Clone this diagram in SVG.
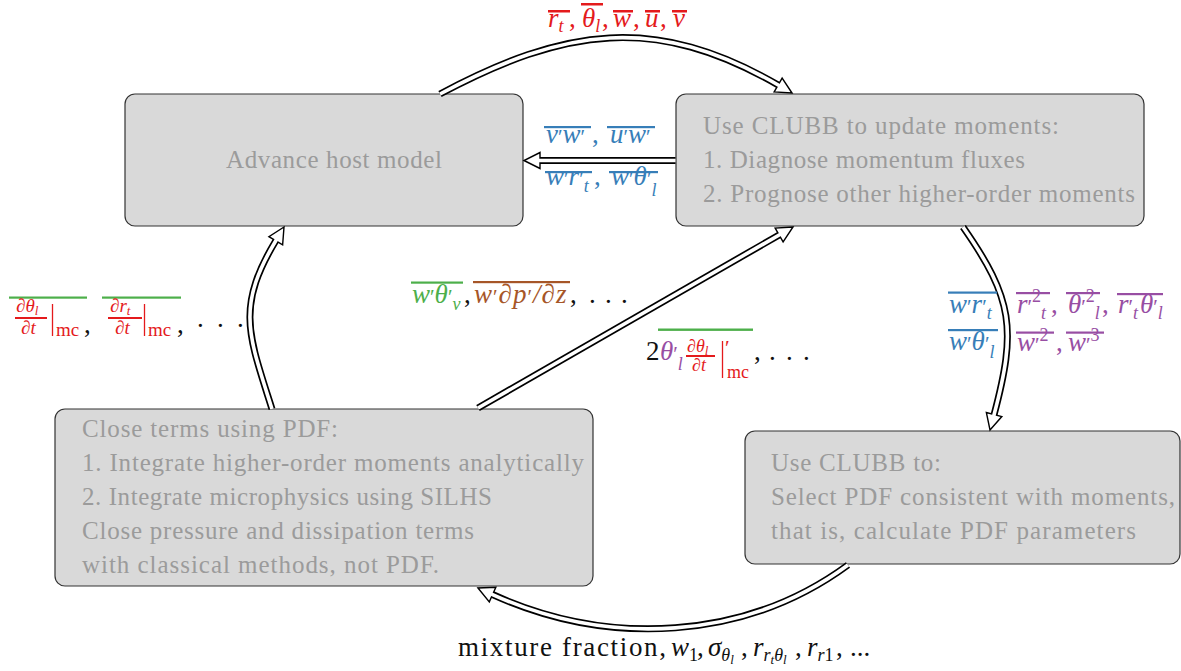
<svg xmlns="http://www.w3.org/2000/svg" xmlns:xlink="http://www.w3.org/1999/xlink" width="1181" height="671" viewBox="0 0 1181 671">
<style>
.box{fill:#d9d9d9;stroke:#333;stroke-width:1.2}
.bt{font-family:"Liberation Serif","Times New Roman","DejaVu Serif",serif;font-size:25px;fill:#9b9b9b}
.outer{fill:none;stroke:#000;stroke-width:7}
.inner{fill:none;stroke:#fff;stroke-width:3.6}
.head{fill:#fff;stroke:#000;stroke-width:1.4;stroke-linejoin:miter}
.m,.mr,.s,.sr,.ss,.fr,.fi{font-family:"Liberation Serif","Times New Roman","DejaVu Serif",serif}
.m{font-style:italic;font-size:27px}
.mr{font-style:normal;font-size:27px}
.p{font-style:normal;font-size:21px}
.s{font-style:italic;font-size:18px}
.sr{font-style:normal;font-size:18px}
.ss{font-style:italic;font-size:13px}
.fi{font-style:italic;font-size:19px}
.fr{font-style:normal;font-size:19px}
.red{fill:#e41a1c}.blue{fill:#377eb8}.green{fill:#4daf4a}.purple{fill:#984ea3}.brown{fill:#a65628}.blk{fill:#111}
.vb{stroke:#e41a1c;stroke-width:1.3}
</style>
<defs>
<polygon id="hd" points="0,0 -16,-8 -16,8"/>
</defs>

<g id="node-host">
<rect class="box" x="125" y="94" width="398" height="132" rx="10"/>
<text class="bt" x="226" y="168" textLength="216" lengthAdjust="spacing">Advance host model</text>
</g>
<g id="node-update">
<rect class="box" x="676" y="94" width="468" height="132" rx="10"/>
<text class="bt" x="703" y="134" textLength="356" lengthAdjust="spacing">Use CLUBB to update moments:</text>
<text class="bt" x="703" y="168" textLength="322" lengthAdjust="spacing">1. Diagnose momentum fluxes</text>
<text class="bt" x="703" y="202" textLength="432" lengthAdjust="spacing">2. Prognose other higher-order moments</text>
</g>
<g id="node-select">
<rect class="box" x="745" y="431" width="435" height="133" rx="10"/>
<text class="bt" x="771" y="471" textLength="170" lengthAdjust="spacing">Use CLUBB to:</text>
<text class="bt" x="771" y="505" textLength="404" lengthAdjust="spacing">Select PDF consistent with moments,</text>
<text class="bt" x="771" y="539" textLength="365" lengthAdjust="spacing">that is, calculate PDF parameters</text>
</g>
<g id="node-close">
<rect class="box" x="55" y="409" width="538" height="177" rx="10"/>
<text class="bt" x="82" y="437" textLength="256" lengthAdjust="spacing">Close terms using PDF:</text>
<text class="bt" x="82" y="471" textLength="502" lengthAdjust="spacing">1. Integrate higher-order moments analytically</text>
<text class="bt" x="82" y="505" textLength="410" lengthAdjust="spacing">2. Integrate microphysics using SILHS</text>
<text class="bt" x="82" y="539" textLength="392" lengthAdjust="spacing">Close pressure and dissipation terms</text>
<text class="bt" x="82" y="573" textLength="357" lengthAdjust="spacing">with classical methods, not PDF.</text>
</g>

<g id="connectors">
<g id="c-host-update">
<path class="outer" d="M440,94 C565,27.5 655,14 778.14,85"/>
<use xlink:href="#hd" class="head" transform="translate(792,93) rotate(30)"/>
<path class="inner" d="M440,94 C565,27.5 655,14 778.14,85 L780.74,86.5"/>
</g>
<g id="c-update-host">
<path class="outer" d="M675.5,160.5 L540,160.5"/>
<use xlink:href="#hd" class="head" transform="translate(524,160.5) rotate(180)"/>
<path class="inner" d="M675.5,160.5 L537,160.5"/>
</g>
<g id="c-update-select">
<path class="outer" d="M963,227 C1013.4,299.1 1016.6,329.4 994.1,414.53"/>
<use xlink:href="#hd" class="head" transform="translate(990,430) rotate(104.8)"/>
<path class="inner" d="M963,227 C1013.4,299.1 1016.6,329.4 994.1,414.53 L993.33,417.43"/>
</g>
<g id="c-select-close">
<path class="outer" d="M848,565 C744.8,640.6 609.1,647.1 492.56,594.56"/>
<use xlink:href="#hd" class="head" transform="translate(478,588) rotate(-155.75)"/>
<path class="inner" d="M848,565 C744.8,640.6 609.1,647.1 492.56,594.56 L489.83,593.33"/>
</g>
<g id="c-close-host">
<path class="outer" d="M272,409 C248.5,334.7 235.7,307.5 275.78,240.71"/>
<use xlink:href="#hd" class="head" transform="translate(284,227) rotate(-59.05)"/>
<path class="inner" d="M272,409 C248.5,334.7 235.7,307.5 275.78,240.71 L277.3,238.14"/>
</g>
<g id="c-close-update">
<path class="outer" d="M478,408 L779.13,234.97"/>
<use xlink:href="#hd" class="head" transform="translate(793,227) rotate(-29.88)"/>
<path class="inner" d="M478,408 L781.73,233.48"/>
</g>
</g>

<g id="label-top" class="red">
<text class="m" y="27"><tspan x="548">r</tspan><tspan class="s" dy="5">t</tspan><tspan class="mr" x="569" y="27">,</tspan><tspan x="582">θ</tspan><tspan class="s" dy="5">l</tspan><tspan class="mr" x="602" y="27">,</tspan><tspan x="613">w</tspan><tspan class="mr" x="633">,</tspan><tspan x="645">u</tspan><tspan class="mr" x="660">,</tspan><tspan x="673">v</tspan></text>
<rect x="548" y="10" width="22" height="2.5"/>
<rect x="581" y="3" width="22" height="2.5"/>
<rect x="613" y="10" width="20" height="2.5"/>
<rect x="645" y="10" width="15" height="2.5"/>
<rect x="672" y="10" width="15" height="2.5"/>
</g>

<g id="label-fluxes" class="blue">
<text class="m" y="143"><tspan x="546">v</tspan><tspan class="p" dy="1">′</tspan><tspan dy="-1">w</tspan><tspan class="p" dy="1">′</tspan><tspan class="mr" x="592" y="143">,</tspan><tspan x="610">u</tspan><tspan class="p" dy="1">′</tspan><tspan dy="-1">w</tspan><tspan class="p" dy="1">′</tspan></text>
<rect x="544" y="126" width="47" height="2.2"/>
<rect x="607" y="126" width="48" height="2.2"/>
<text class="m" y="185"><tspan x="546">w</tspan><tspan class="p" dy="1">′</tspan><tspan dy="-1">r</tspan><tspan class="p" dy="1">′</tspan><tspan class="s" dy="6">t</tspan><tspan class="mr" x="594" y="185">,</tspan><tspan x="611">w</tspan><tspan class="p" dy="1">′</tspan><tspan dy="-1">θ</tspan><tspan class="p" dy="1">′</tspan><tspan class="s" dy="10">l</tspan></text>
<rect x="545" y="171" width="47" height="2.2"/>
<rect x="609" y="171" width="49" height="2.2"/>
</g>

<g id="label-left">
<rect class="green" x="9" y="296.5" width="78" height="2.2"/>
<rect class="green" x="102" y="296.5" width="79" height="2.2"/>
<g class="red">
<text class="fi" x="16" y="312">∂θ<tspan class="ss" dy="3">l</tspan></text>
<rect x="15" y="317" width="32" height="2"/>
<text class="fi" x="21" y="334">∂t</text>
<text class="fr" x="56" y="336">mc</text>
<text class="fi" x="110" y="312">∂r<tspan class="ss" dy="3">t</tspan></text>
<rect x="108" y="317" width="34" height="2"/>
<text class="fi" x="115" y="334">∂t</text>
<text class="fr" x="148" y="336">mc</text>
</g>
<line class="vb" x1="52.5" y1="304" x2="52.5" y2="336"/>
<line class="vb" x1="144.5" y1="304" x2="144.5" y2="336"/>
<g class="blk">
<text class="mr" x="84" y="333">,</text>
<text class="mr" x="177" y="333">,</text>
<text class="mr" x="197 217 237" y="327">...</text>
</g>
</g>

<g id="label-middle">
<text class="m green" y="303"><tspan x="412">w</tspan><tspan class="p" dy="1">′</tspan><tspan dy="-1">θ</tspan><tspan class="p" dy="1">′</tspan><tspan class="s" dy="6">v</tspan></text>
<rect class="green" x="411" y="281.5" width="52" height="2.2"/>
<text class="mr blk" x="464" y="303">,</text>
<text class="m brown" x="474" y="303" style="letter-spacing:1px">w<tspan class="p" dy="1">′</tspan><tspan dy="-1">∂p</tspan><tspan class="p" dy="1">′</tspan><tspan dy="-1">/∂z</tspan></text>
<rect class="brown" x="473" y="281" width="97" height="2.2"/>
<text class="mr blk" x="570" y="303">,</text>
<text class="mr blk" x="589 605 621" y="303">...</text>
</g>

<g id="label-diag">
<rect class="green" x="658" y="328.5" width="95" height="2.4"/>
<text class="mr blk" x="646" y="360">2</text>
<text class="m purple" y="360"><tspan x="660">θ</tspan><tspan class="p" dy="1">′</tspan><tspan class="s" dy="9">l</tspan></text>
<g class="red">
<text class="fi" x="687" y="352" style="font-size:18px">∂θ<tspan class="ss" dy="3">l</tspan></text>
<rect x="686" y="355" width="29" height="2"/>
<text class="fi" x="692" y="371" style="font-size:18px">∂t</text>
<text class="p" x="725" y="355">′</text>
<text class="sr" x="727" y="378">mc</text>
</g>
<line class="vb" x1="722.5" y1="341" x2="722.5" y2="378"/>
<text class="mr blk" x="754" y="360">,</text>
<text class="mr blk" x="769 786 803" y="360">...</text>
</g>

<g id="label-right">
<g class="blue">
<text class="m" y="313"><tspan x="949">w</tspan><tspan class="p" dy="1">′</tspan><tspan dy="-1">r</tspan><tspan class="p" dy="1">′</tspan><tspan class="s" dy="5">t</tspan></text>
<rect x="948" y="291.5" width="49" height="2.2"/>
<text class="m" y="350"><tspan x="949">w</tspan><tspan class="p" dy="1">′</tspan><tspan dy="-1">θ</tspan><tspan class="p" dy="1">′</tspan><tspan class="s" dy="7">l</tspan></text>
<rect x="948" y="329" width="50" height="2.2"/>
</g>
<g class="purple">
<text class="m" y="313"><tspan x="1017">r</tspan><tspan class="p" dy="1">′</tspan><tspan class="sr" dy="-12">2</tspan><tspan class="s" dy="17">t</tspan><tspan class="mr" x="1051" y="313">,</tspan><tspan x="1068">θ</tspan><tspan class="p" dy="1">′</tspan><tspan class="sr" dy="-12">2</tspan><tspan class="s" dy="17">l</tspan><tspan class="mr" x="1102" y="313">,</tspan><tspan x="1118">r</tspan><tspan class="p" dy="1">′</tspan><tspan class="s" dy="5">t</tspan><tspan x="1140" y="313">θ</tspan><tspan class="p" dy="1">′</tspan><tspan class="s" dy="5">l</tspan></text>
<rect x="1016" y="292" width="34" height="2.2"/>
<rect x="1066" y="292" width="34" height="2.2"/>
<rect x="1117" y="293" width="46" height="2.2"/>
<text class="m" y="351"><tspan x="1017">w</tspan><tspan class="p" dy="1">′</tspan><tspan class="sr" dy="-11">2</tspan><tspan class="mr" x="1056" y="351">,</tspan><tspan x="1068">w</tspan><tspan class="p" dy="1">′</tspan><tspan class="sr" dy="-11">3</tspan></text>
<rect x="1016" y="331.5" width="38" height="2.2"/>
<rect x="1066" y="331.5" width="38" height="2.2"/>
</g>
</g>

<g id="label-bottom" class="blk">
<text class="mr" x="458" y="656" textLength="208" lengthAdjust="spacing">mixture fraction,</text>
<text class="m" y="656"><tspan x="671">w</tspan><tspan class="sr" dy="5">1</tspan><tspan class="mr" x="697" y="656">,</tspan><tspan x="708">σ</tspan><tspan class="s" dy="5">θ</tspan><tspan class="ss" dy="3">l</tspan><tspan class="mr" x="741" y="656">,</tspan><tspan x="753">r</tspan><tspan class="s" dy="5">r</tspan><tspan class="ss" dy="3">t</tspan><tspan class="s" dy="-3">θ</tspan><tspan class="ss" dy="3">l</tspan><tspan class="mr" x="795" y="656">,</tspan><tspan x="807">r</tspan><tspan class="s" dy="5">r</tspan><tspan class="sr">1</tspan><tspan class="mr" x="836" y="656">,</tspan><tspan class="mr" x="850" y="656">...</tspan></text>
</g>
</svg>
